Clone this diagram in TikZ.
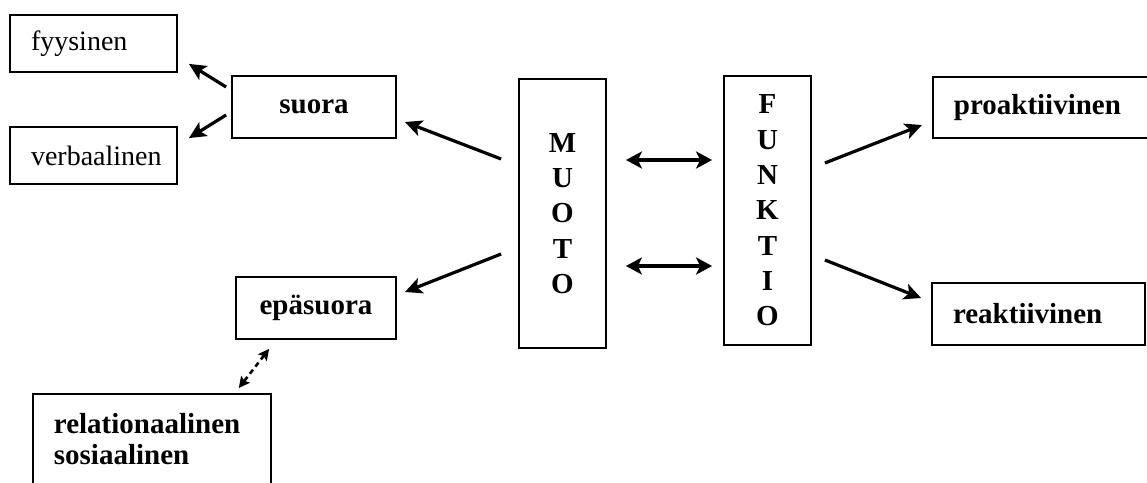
\documentclass[tikz,border=0pt]{standalone}
\usepackage{fontspec}
\setmainfont{Liberation Serif}
\usetikzlibrary{arrows.meta}
\newcommand{\bigbf}{\fontsize{29}{31}\selectfont\bfseries}
\newcommand{\bigrm}{\fontsize{28}{30}\selectfont}
\newcommand{\stackbf}{\fontsize{29}{35.3}\selectfont\bfseries}
\begin{document}
\begin{tikzpicture}[x=1pt, y=-1pt,
  sidebox/.style={draw, line width=1.8pt, inner xsep=21pt, inner ysep=0pt, align=left, font=\bigrm},
  midbox/.style={draw, line width=1.8pt, inner sep=0pt, align=center, font=\bigbf},
  stackbox/.style={draw, line width=1.8pt, inner sep=0pt, minimum width=87pt, minimum height=269pt, align=center, font=\stackbf},
  arrow/.style={line width=3.2pt, -{Stealth[length=17pt, width=16pt, inset=4pt]}},
  twoway/.style={line width=3.4pt, {Stealth[length=16pt, width=17pt, inset=4pt]}-{Stealth[length=16pt, width=17pt, inset=4pt]}},
  dashway/.style={line width=2.6pt, dash pattern=on 5pt off 4pt, {Stealth[length=11pt, width=11pt, inset=2pt]}-{Stealth[length=11pt, width=11pt, inset=2pt]}}]

\useasboundingbox (0,0) rectangle (1147,482);
\clip (0,0) rectangle (1147,482);

\node[sidebox, text width=125pt, minimum height=57pt] (fyysinen) at (93.5,43.5) {fyysinen};
\node[sidebox, text width=125pt, minimum height=57pt] (verbaalinen) at (93.5,155.5) {verbaalinen};

\node[midbox, minimum width=164pt, minimum height=62pt] (suora) at (314,107) {suora};
\node[midbox, minimum width=160pt, minimum height=62pt] (epasuora) at (316,308) {epäsuora};

\node[sidebox, font=\bigbf, text width=196pt, minimum height=91pt, anchor=north west] (relationaalinen) at (32,393) {relationaalinen\\sosiaalinen};

\node[stackbox] (muoto) at (562.5,213.5) {M\\U\\O\\T\\O};
\node[stackbox] (funktio) at (767.5,210.5) {F\\U\\N\\K\\T\\I\\O};

\node[sidebox, font=\bigbf, text width=200pt, minimum height=61pt, anchor=west] (proaktiivinen) at (932,107.5) {proaktiivinen};
\node[sidebox, font=\bigbf, text width=171pt, minimum height=62pt] (reaktiivinen) at (1038.5,314) {reaktiivinen};

% suora
\draw[arrow] ([xshift=-5pt,yshift=20pt]suora.west) -- ([xshift=11pt,yshift=9pt]fyysinen.south east);
\draw[arrow] ([xshift=-5pt,yshift=-8pt]suora.west) -- ([xshift=11pt,yshift=-12pt]verbaalinen.north east);

% muoto
\draw[arrow] ([xshift=-17pt,yshift=54.5pt]muoto.west) -- ([xshift=8pt,yshift=-15pt]suora.east);
\draw[arrow] ([xshift=-17pt,yshift=-40.5pt]muoto.west) -- ([xshift=8pt,yshift=16pt]epasuora.east);

\draw[twoway] ([xshift=19pt,yshift=53.5pt]muoto.east) -- ([xshift=-11pt,yshift=50.5pt]funktio.west);
\draw[twoway] ([xshift=19pt,yshift=-52.5pt]muoto.east) -- ([xshift=-11pt,yshift=-55.5pt]funktio.west);

% funktio
\draw[arrow] ([xshift=13pt,yshift=47.5pt]funktio.east) -- ([xshift=-10pt,yshift=-17.5pt]proaktiivinen.west);
\draw[arrow] ([xshift=13pt,yshift=-49.5pt]funktio.east) -- ([xshift=-10pt,yshift=16pt]reaktiivinen.west);

\draw[dashway] ([xshift=34pt,yshift=-9pt]epasuora.south west) -- ([xshift=-33pt,yshift=5pt]relationaalinen.north east);

\end{tikzpicture}
\end{document}
